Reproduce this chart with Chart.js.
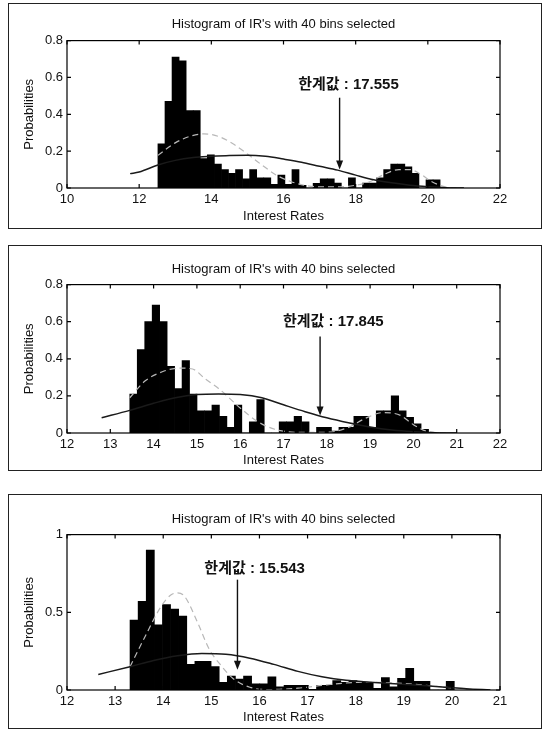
<!DOCTYPE html>
<html>
<head>
<meta charset="utf-8">
<script src="https://cdn.jsdelivr.net/npm/chart.js@4.4.1/dist/chart.umd.min.js"></script>
<style>
  body { margin: 0; background: #fff; width: 545px; height: 730px; position: relative; overflow: hidden; }
  .panel { position: absolute; left: 8px; width: 532px; border: 1px solid #222; }
  .panel canvas { display: block; }
</style>
</head>
<body>
<div class="panel" style="top:3px;height:224px"><canvas id="c1" width="532" height="224"></canvas></div>
<div class="panel" style="top:245px;height:224px"><canvas id="c2" width="532" height="224"></canvas></div>
<div class="panel" style="top:494px;height:233px"><canvas id="c3" width="532" height="233"></canvas></div>
<script>
// histogram bins (40 bins each)
const binStart1 = 12.52, binWidth1 = 0.1955;
const probs1 = [0.24, 0.47, 0.71, 0.69, 0.42, 0.42, 0.16, 0.18, 0.13, 0.10,
                0.08, 0.10, 0.05, 0.10, 0.055, 0.055, 0.02, 0.07, 0.02, 0.10,
                0.015, 0, 0.025, 0.05, 0.05, 0.027, 0, 0.055, 0, 0.027,
                0.027, 0.055, 0.10, 0.13, 0.13, 0.115, 0.08, 0, 0.045, 0.045];
const binStart2 = 13.45, binWidth2 = 0.1725;
const probs2 = [0.21, 0.45, 0.60, 0.69, 0.60, 0.36, 0.24, 0.39, 0.21, 0.12,
                0.12, 0.15, 0.09, 0.03, 0.15, 0, 0.06, 0.18, 0, 0,
                0.06, 0.06, 0.09, 0.06, 0, 0.03, 0.03, 0.01, 0.03, 0.03,
                0.09, 0.09, 0.03, 0.12, 0.12, 0.20, 0.12, 0.085, 0.05, 0.02];
const binStart3 = 13.31, binWidth3 = 0.1685;
const probs3 = [0.45, 0.57, 0.90, 0.42, 0.55, 0.52, 0.475, 0.165, 0.185, 0.185,
                0.15, 0.05, 0.09, 0.07, 0.09, 0.04, 0.04, 0.085, 0.02, 0.03,
                0.03, 0.03, 0.005, 0.03, 0.03, 0.06, 0.05, 0.06, 0.05, 0.05,
                0.01, 0.08, 0.02, 0.075, 0.14, 0.055, 0.055, 0, 0, 0.055];

// fitted curves: solid (single fit) and dashed (mixture fit)
const fitX1 = [11.75, 12.0, 12.52, 13.0, 13.5, 14.0, 14.5, 15.0, 15.5, 16.0, 16.5, 17.0, 17.5, 18.0, 18.5, 19.0, 19.5, 20.0, 20.5, 21.0];
const fitY1 = [0.078, 0.087, 0.125, 0.15, 0.165, 0.172, 0.177, 0.178, 0.172, 0.157, 0.14, 0.118, 0.097, 0.07, 0.045, 0.028, 0.015, 0.007, 0.002, 0];
const mixX1 = [12.52, 13.0, 13.4, 13.8, 14.2, 14.6, 15.0, 15.4, 15.8, 16.2, 16.6, 17.0, 17.5, 18.0, 18.4, 18.8, 19.2, 19.5, 19.8, 20.1, 20.5, 21.0];
const mixY1 = [0.177, 0.245, 0.28, 0.294, 0.28, 0.24, 0.185, 0.125, 0.07, 0.035, 0.014, 0.006, 0.006, 0.015, 0.035, 0.075, 0.1, 0.1, 0.075, 0.035, 0.006, 0];

const fitX2 = [12.8, 13.45, 14.0, 14.5, 15.0, 15.5, 16.0, 16.5, 17.0, 17.5, 18.0, 18.5, 19.0, 19.5, 20.0, 20.5, 21.0];
const fitY2 = [0.082, 0.122, 0.16, 0.19, 0.207, 0.21, 0.207, 0.19, 0.152, 0.115, 0.082, 0.055, 0.032, 0.016, 0.007, 0.002, 0];
const mixX2 = [13.45, 13.8, 14.2, 14.6, 14.9, 15.2, 15.5, 16.0, 16.4, 16.8, 17.3, 18.0, 18.5, 18.9, 19.3, 19.7, 20.0, 20.3, 20.7, 21.0];
const mixY2 = [0.19, 0.28, 0.33, 0.35, 0.345, 0.29, 0.24, 0.135, 0.062, 0.02, 0.004, 0.004, 0.03, 0.08, 0.11, 0.095, 0.045, 0.01, 0.001, 0];

const fitX3 = [12.65, 13.31, 13.8, 14.3, 14.8, 15.3, 15.8, 16.3, 16.8, 17.3, 17.8, 18.3, 18.8, 19.3, 19.8, 20.3, 20.8];
const fitY3 = [0.10, 0.15, 0.19, 0.22, 0.235, 0.23, 0.205, 0.165, 0.12, 0.085, 0.062, 0.05, 0.04, 0.03, 0.02, 0.008, 0];
const mixX3 = [13.31, 13.6, 13.96, 14.15, 14.3, 14.45, 14.72, 14.96, 15.17, 15.45, 15.8, 16.2, 16.8, 17.3, 17.8, 18.3, 18.8, 19.3, 19.8, 20.2, 20.6];
const mixY3 = [0.15, 0.33, 0.54, 0.61, 0.625, 0.6, 0.43, 0.26, 0.17, 0.074, 0.018, 0.003, 0.012, 0.03, 0.045, 0.05, 0.045, 0.035, 0.02, 0.008, 0];

// threshold annotations (한계값)
const limitValues = [17.555, 17.845, 15.543];
const noteX = [17.8, 18.15, 15.9];
const noteY = [0.56, 0.6, 0.78];
const arrowFrom = [0.49, 0.52, 0.71];
const arrowTo = [0.1, 0.095, 0.13];

const FONT = "'Liberation Sans', Arial, 'Noto Sans CJK KR', sans-serif";
const txtColor = '#111';

// MATLAB-like axis box with inward ticks on all four sides
const axisBox = {
  id: 'axisBox',
  afterDatasetsDraw(chart) {
    const { ctx, chartArea: a, scales: { x, y } } = chart;
    ctx.save();
    ctx.strokeStyle = '#000';
    ctx.lineWidth = 1.2;
    ctx.strokeRect(a.left, a.top, a.right - a.left, a.bottom - a.top);
    ctx.beginPath();
    x.ticks.forEach(t => {
      const p = x.getPixelForValue(t.value);
      ctx.moveTo(p, a.bottom); ctx.lineTo(p, a.bottom - 4);
      ctx.moveTo(p, a.top); ctx.lineTo(p, a.top + 4);
    });
    y.ticks.forEach(t => {
      const p = y.getPixelForValue(t.value);
      ctx.moveTo(a.left, p); ctx.lineTo(a.left + 4, p);
      ctx.moveTo(a.right, p); ctx.lineTo(a.right - 4, p);
    });
    ctx.stroke();
    ctx.restore();
  }
};

// arrow + label pointing to the threshold value
const limitNote = {
  id: 'limitNote',
  afterDatasetsDraw(chart, args, opts) {
    const { ctx, scales: { x, y } } = chart;
    const px = x.getPixelForValue(opts.value);
    const y0 = y.getPixelForValue(opts.from);
    const y1 = y.getPixelForValue(opts.to);
    ctx.save();
    ctx.strokeStyle = '#111';
    ctx.fillStyle = '#111';
    ctx.lineWidth = 1.4;
    ctx.beginPath();
    ctx.moveTo(px, y0);
    ctx.lineTo(px, y1 - 6);
    ctx.stroke();
    ctx.beginPath();
    ctx.moveTo(px, y1);
    ctx.lineTo(px - 3.5, y1 - 9);
    ctx.lineTo(px + 3.5, y1 - 9);
    ctx.closePath();
    ctx.fill();
    ctx.font = 'bold 15px ' + FONT;
    ctx.textAlign = 'center';
    ctx.textBaseline = 'middle';
    ctx.fillText('한계값 : ' + opts.value.toFixed(3), x.getPixelForValue(opts.textX), y.getPixelForValue(opts.textY));
    ctx.restore();
  }
};

function toPoints(xs, ys) {
  return xs.map((v, i) => ({ x: v, y: ys[i] }));
}

function binPoints(start, width, probs) {
  return probs.map((p, i) => ({ x: start + width * (i + 0.5), y: p }));
}

function makePanel(id, bars, fit, mix, xr, yr, lay, k) {
  new Chart(document.getElementById(id), {
    type: 'bar',
    data: {
      datasets: [
        { type: 'line', data: fit, borderColor: '#1a1a1a', borderWidth: 1.5, pointRadius: 0,
          cubicInterpolationMode: 'monotone', order: 0 },
        { type: 'line', data: mix, borderColor: '#b8b8b8', borderWidth: 1.2, borderDash: [6, 4], pointRadius: 0,
          cubicInterpolationMode: 'monotone', order: 1 },
        { type: 'bar', data: bars, backgroundColor: '#000', borderWidth: 0,
          barPercentage: 1, categoryPercentage: 1, order: 2 }
      ]
    },
    options: {
      responsive: false,
      animation: false,
      layout: { padding: { left: 0, right: lay.padRight, top: 0, bottom: 0 } },
      plugins: {
        legend: { display: false },
        tooltip: { enabled: false },
        title: {
          display: true, fullSize: false,
          text: "Histogram of IR's with 40 bins selected",
          color: txtColor, font: { family: FONT, size: 13, weight: 'normal' },
          padding: { top: lay.titleTop, bottom: lay.titleBottom }
        },
        limitNote: { value: limitValues[k], textX: noteX[k], textY: noteY[k], from: arrowFrom[k], to: arrowTo[k] }
      },
      scales: {
        x: {
          type: 'linear', min: xr[0], max: xr[1], offset: false,
          grid: { display: false, drawTicks: false }, border: { display: false },
          ticks: { stepSize: xr[2], autoSkip: false, maxRotation: 0, padding: 4,
                   color: txtColor, font: { family: FONT, size: 13 } },
          title: { display: true, text: 'Interest Rates', color: txtColor,
                   font: { family: FONT, size: 13 }, padding: { top: 2, bottom: lay.xTitlePad } },
          afterFit: s => { s.height = lay.xHeight; }
        },
        y: {
          min: 0, max: yr[0],
          grid: { display: false, drawTicks: false }, border: { display: false },
          ticks: { stepSize: yr[1], padding: 4, color: txtColor, font: { family: FONT, size: 13 },
                   callback: v => String(Number(v.toFixed(2))) },
          title: { display: true, text: 'Probabilities', color: txtColor,
                   font: { family: FONT, size: 13 }, padding: { top: 13, bottom: 0 } },
          afterFit: s => { s.width = lay.yWidth; }
        }
      }
    },
    plugins: [axisBox, limitNote]
  });
}

makePanel('c1', binPoints(binStart1, binWidth1, probs1), toPoints(fitX1, fitY1), toPoints(mixX1, mixY1),
  [10, 22, 2], [0.8, 0.2], { yWidth: 58, padRight: 41, xHeight: 40, xTitlePad: 4, titleTop: 13, titleBottom: 8 }, 0);
makePanel('c2', binPoints(binStart2, binWidth2, probs2), toPoints(fitX2, fitY2), toPoints(mixX2, mixY2),
  [12, 22, 1], [0.8, 0.2], { yWidth: 58, padRight: 41, xHeight: 37, xTitlePad: 2, titleTop: 16, titleBottom: 7 }, 1);
makePanel('c3', binPoints(binStart3, binWidth3, probs3), toPoints(fitX3, fitY3), toPoints(mixX3, mixY3),
  [12, 21, 1], [1, 0.5], { yWidth: 58, padRight: 41, xHeight: 38, xTitlePad: 3, titleTop: 17, titleBottom: 7 }, 2);
</script>
</body>
</html>
